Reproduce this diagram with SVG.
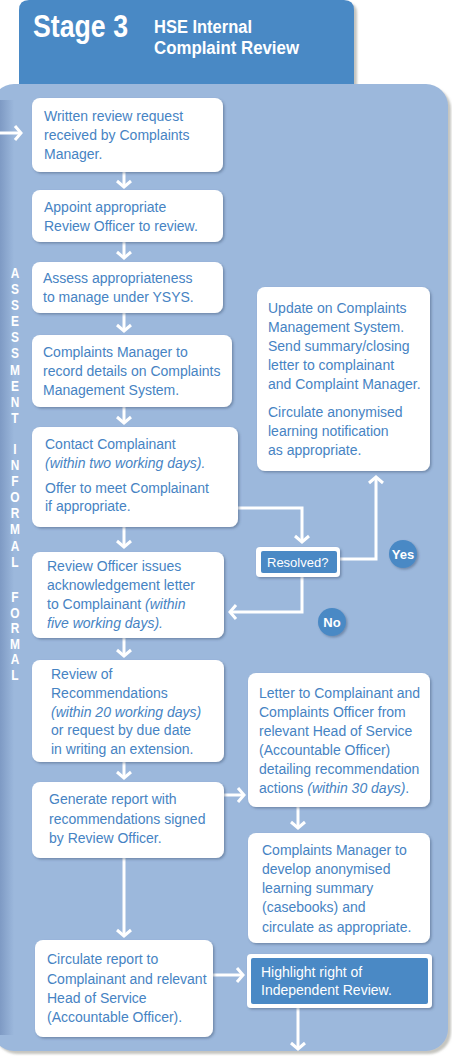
<svg xmlns="http://www.w3.org/2000/svg" width="452" height="1058" viewBox="0 0 452 1058">
<defs>
  <style>
    .t { font-family: "Liberation Sans", Arial, sans-serif; font-size: 14px; fill: #4683c3; }
    .i { font-style: italic; }
    .w { fill: #ffffff; }
    .box { fill: #ffffff; filter: url(#sh); }
    .blue { fill: #4a89c5; }
    .side { font-family: "Liberation Sans", Arial, sans-serif; font-size: 14px; font-weight: bold; fill: #ffffff; text-anchor: middle; }
    .con { fill: none; stroke: #ffffff; stroke-width: 3; marker-end: url(#ah); }
  </style>
  <filter id="sh" x="-10%" y="-10%" width="130%" height="130%">
    <feDropShadow dx="1.5" dy="1.5" stdDeviation="1" flood-color="#3a4f6e" flood-opacity="0.45"/>
  </filter>
  <filter id="psh" x="-5%" y="-5%" width="115%" height="115%">
    <feDropShadow dx="3" dy="3" stdDeviation="1" flood-color="#8a8a80" flood-opacity="0.5"/>
  </filter>
  <linearGradient id="lg" gradientUnits="userSpaceOnUse" x1="0" y1="0" x2="14" y2="0">
    <stop offset="0" stop-color="#7e9ac4"/>
    <stop offset="1" stop-color="#9cb8dc"/>
  </linearGradient>
  <marker id="ah" markerUnits="userSpaceOnUse" markerWidth="16" markerHeight="16" viewBox="0 0 16 16" refX="13" refY="8" orient="auto">
    <path d="M7,1 L13,8 L7,15" fill="none" stroke="#ffffff" stroke-width="3"/>
  </marker>
</defs>

<g id="header">
  <path d="M19,84 L19,10 Q19,0 29,0 L344,0 Q354,0 354,10 L354,90 L19,90 Z" fill="#4a89c5" filter="url(#psh)"/>
  <text x="33" y="37" font-family="Liberation Sans, Arial, sans-serif" font-weight="bold" font-size="31" fill="#ffffff" textLength="95" lengthAdjust="spacingAndGlyphs">Stage 3</text>
  <text x="154" y="33" font-family="Liberation Sans, Arial, sans-serif" font-weight="bold" font-size="18" fill="#ffffff" textLength="98" lengthAdjust="spacingAndGlyphs">HSE Internal</text>
  <text x="154" y="54" font-family="Liberation Sans, Arial, sans-serif" font-weight="bold" font-size="18" fill="#ffffff" textLength="145" lengthAdjust="spacingAndGlyphs">Complaint Review</text>
</g>

<g id="panel">
  <rect x="-8" y="84" width="456" height="967" rx="22" ry="22" fill="#9cb8dc" filter="url(#psh)"/>
  <rect x="-8" y="100" width="22" height="935" fill="url(#lg)"/>
</g>

<g id="side-labels" transform="scale(0.85,1)">
  <text class="side" x="17.6" y="278"><tspan x="17.6">A</tspan><tspan x="17.6" dy="16.1">S</tspan><tspan x="17.6" dy="16.1">S</tspan><tspan x="17.6" dy="16.1">E</tspan><tspan x="17.6" dy="16.1">S</tspan><tspan x="17.6" dy="16.1">S</tspan><tspan x="17.6" dy="16.1">M</tspan><tspan x="17.6" dy="16.1">E</tspan><tspan x="17.6" dy="16.1">N</tspan><tspan x="17.6" dy="16.1">T</tspan></text>
  <text class="side" x="17.6" y="454"><tspan x="17.6">I</tspan><tspan x="17.6" dy="16.1">N</tspan><tspan x="17.6" dy="16.1">F</tspan><tspan x="17.6" dy="16.1">O</tspan><tspan x="17.6" dy="16.1">R</tspan><tspan x="17.6" dy="16.1">M</tspan><tspan x="17.6" dy="16.1">A</tspan><tspan x="17.6" dy="16.1">L</tspan></text>
  <text class="side" x="17.6" y="602"><tspan x="17.6">F</tspan><tspan x="17.6" dy="15.6">O</tspan><tspan x="17.6" dy="15.6">R</tspan><tspan x="17.6" dy="15.6">M</tspan><tspan x="17.6" dy="15.6">A</tspan><tspan x="17.6" dy="15.6">L</tspan></text>
</g>

<g id="connectors">
  <path class="con" d="M-2,133 L21,133"/>
  <path class="con" d="M124,172 L124,187"/>
  <path class="con" d="M124,242 L124,258"/>
  <path class="con" d="M124,313 L124,331"/>
  <path class="con" d="M124,407 L124,423"/>
  <path class="con" d="M124,527 L124,547"/>
  <path class="con" d="M124,638 L124,656"/>
  <path class="con" d="M124,762 L124,778"/>
  <path class="con" d="M124,858 L124,936"/>
  <path class="con" d="M238,508 L302,508 L302,542"/>
  <path class="con" d="M340,559 L376,559 L376,477"/>
  <path class="con" d="M302,577 L302,612 L230,612"/>
  <path class="con" d="M224,795 L244,795"/>
  <path class="con" d="M298,807 L298,828"/>
  <path class="con" d="M213,975 L243,975"/>
  <path class="con" d="M298,1008 L298,1049"/>
</g>

<g id="n1">
  <rect class="box" x="32" y="98" width="191" height="74" rx="8"/>
  <text class="t" x="44" y="121">Written review request</text>
  <text class="t" x="44" y="140">received by Complaints</text>
  <text class="t" x="44" y="159">Manager.</text>
</g>
<g id="n2">
  <rect class="box" x="32" y="190" width="191" height="52" rx="8"/>
  <text class="t" x="44" y="212">Appoint appropriate</text>
  <text class="t" x="44" y="231">Review Officer to review.</text>
</g>
<g id="n3">
  <rect class="box" x="32" y="262" width="191" height="51" rx="8"/>
  <text class="t" x="43" y="283">Assess appropriateness</text>
  <text class="t" x="43" y="302">to manage under YSYS.</text>
</g>
<g id="n4">
  <rect class="box" x="32" y="335" width="200" height="72" rx="8"/>
  <text class="t" x="43" y="357">Complaints Manager to</text>
  <text class="t" x="43" y="376">record details on Complaints</text>
  <text class="t" x="43" y="395">Management System.</text>
</g>
<g id="n5">
  <rect class="box" x="32" y="427" width="206" height="100" rx="8"/>
  <text class="t" x="45" y="449">Contact Complainant</text>
  <text class="t i" x="45" y="468">(within two working days).</text>
  <text class="t" x="45" y="493">Offer to meet Complainant</text>
  <text class="t" x="45" y="511">if appropriate.</text>
</g>
<g id="n6">
  <rect class="box" x="32" y="552" width="192" height="86" rx="8"/>
  <text class="t" x="47" y="571">Review Officer issues</text>
  <text class="t" x="47" y="590">acknowledgement letter</text>
  <text class="t" x="47" y="609">to Complainant <tspan class="i">(within</tspan></text>
  <text class="t i" x="47" y="628">five working days).</text>
</g>
<g id="n7">
  <rect class="box" x="32" y="660" width="192" height="102" rx="8"/>
  <text class="t" x="51" y="679">Review of</text>
  <text class="t" x="51" y="698">Recommendations</text>
  <text class="t i" x="51" y="717">(within 20 working days)</text>
  <text class="t" x="51" y="735">or request by due date</text>
  <text class="t" x="51" y="754">in writing an extension.</text>
</g>
<g id="n8">
  <rect class="box" x="32" y="782" width="192" height="76" rx="8"/>
  <text class="t" x="49" y="804">Generate report with</text>
  <text class="t" x="49" y="824">recommendations signed</text>
  <text class="t" x="49" y="843">by Review Officer.</text>
</g>
<g id="n9">
  <rect class="box" x="35" y="940" width="178" height="97" rx="8"/>
  <text class="t" x="47" y="964">Circulate report to</text>
  <text class="t" x="47" y="984">Complainant and relevant</text>
  <text class="t" x="47" y="1003">Head of Service</text>
  <text class="t" x="47" y="1022">(Accountable Officer).</text>
</g>

<g id="n10">
  <rect class="box" x="257" y="287" width="173" height="184" rx="8"/>
  <text class="t" x="268" y="313">Update on Complaints</text>
  <text class="t" x="268" y="332">Management System.</text>
  <text class="t" x="268" y="351">Send summary/closing</text>
  <text class="t" x="268" y="370">letter to complainant</text>
  <text class="t" x="268" y="389">and Complaint Manager.</text>
  <text class="t" x="268" y="417">Circulate anonymised</text>
  <text class="t" x="268" y="436">learning notification</text>
  <text class="t" x="268" y="455">as appropriate.</text>
</g>

<g id="n11">
  <rect class="box" x="256" y="547" width="84" height="30" rx="4"/>
  <rect class="blue" x="261" y="551" width="76" height="22" rx="2"/>
  <text class="t w" x="267" y="567" style="font-size:13px">Resolved?</text>
</g>

<g id="n12">
  <circle class="blue" cx="403" cy="554" r="14" filter="url(#sh)"/>
  <text class="t w" x="403" y="559" text-anchor="middle" style="font-size:13px;font-weight:bold">Yes</text>
</g>
<g id="n13">
  <circle class="blue" cx="332" cy="622" r="14" filter="url(#sh)"/>
  <text class="t w" x="332" y="627" text-anchor="middle" style="font-size:13px;font-weight:bold">No</text>
</g>

<g id="n14">
  <rect class="box" x="248" y="673" width="182" height="134" rx="8"/>
  <text class="t" x="259" y="698">Letter to Complainant and</text>
  <text class="t" x="259" y="717">Complaints Officer from</text>
  <text class="t" x="259" y="736">relevant Head of Service</text>
  <text class="t" x="259" y="755">(Accountable Officer)</text>
  <text class="t" x="259" y="774">detailing recommendation</text>
  <text class="t" x="259" y="793">actions <tspan class="i">(within 30 days)</tspan>.</text>
</g>
<g id="n15">
  <rect class="box" x="248" y="833" width="182" height="110" rx="8"/>
  <text class="t" x="262" y="855">Complaints Manager to</text>
  <text class="t" x="262" y="874">develop anonymised</text>
  <text class="t" x="262" y="893">learning summary</text>
  <text class="t" x="262" y="912">(casebooks) and</text>
  <text class="t" x="262" y="932">circulate as appropriate.</text>
</g>
<g id="n16">
  <rect class="box" x="247" y="954" width="185" height="54" rx="4"/>
  <rect class="blue" x="251" y="958" width="177" height="46" rx="2"/>
  <text class="t w" x="261" y="977">Highlight right of</text>
  <text class="t w" x="261" y="995">Independent Review.</text>
</g>
</svg>
